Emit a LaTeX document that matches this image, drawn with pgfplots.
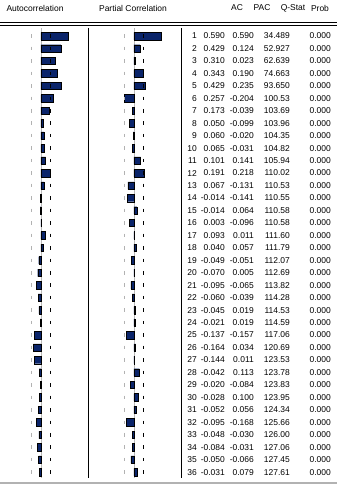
\documentclass[border=0pt]{standalone}
\usepackage{pgfplots}
\pgfplotsset{compat=1.18}
\usepackage{pgfplotstable}
\usepackage{fontspec}
\setmainfont{Liberation Sans}
\definecolor{evbar}{HTML}{0A246A}
\pgfplotstableread{
lag ac pac q prob
1 0.590 0.590 34.489 0.000
2 0.429 0.124 52.927 0.000
3 0.310 0.023 62.639 0.000
4 0.343 0.190 74.663 0.000
5 0.429 0.235 93.650 0.000
6 0.257 -0.204 100.53 0.000
7 0.173 -0.039 103.69 0.000
8 0.050 -0.099 103.96 0.000
9 0.060 -0.020 104.35 0.000
10 0.065 -0.031 104.82 0.000
11 0.101 0.141 105.94 0.000
12 0.191 0.218 110.02 0.000
13 0.067 -0.131 110.53 0.000
14 -0.014 -0.141 110.55 0.000
15 -0.014 0.064 110.58 0.000
16 0.003 -0.096 110.58 0.000
17 0.093 0.011 111.60 0.000
18 0.040 0.057 111.79 0.000
19 -0.049 -0.051 112.07 0.000
20 -0.070 0.005 112.69 0.000
21 -0.095 -0.065 113.82 0.000
22 -0.060 -0.039 114.28 0.000
23 -0.045 0.019 114.53 0.000
24 -0.021 0.019 114.59 0.000
25 -0.137 -0.157 117.06 0.000
26 -0.164 0.034 120.69 0.000
27 -0.144 0.011 123.53 0.000
28 -0.042 0.113 123.78 0.000
29 -0.020 -0.084 123.83 0.000
30 -0.028 0.100 123.95 0.000
31 -0.052 0.056 124.34 0.000
32 -0.095 -0.168 125.66 0.000
33 -0.048 -0.030 126.00 0.000
34 -0.084 -0.031 127.06 0.000
35 -0.050 -0.066 127.45 0.000
36 -0.031 0.079 127.61 0.000
}\data
\begin{document}
\begin{tikzpicture}[font=\fontsize{8.5}{10}\selectfont]
\useasboundingbox (0,0) rectangle (343bp,485bp);
\fill[white] (0,0) rectangle (343bp,485bp);
\pgfplotsset{evpanel/.style={scale only axis, height=450bp, y dir=reverse,
  ymin=0.358, ymax=36.47, axis lines=none, ticks=none, clip=false, anchor=north west},
  evbnd/.style={only marks, mark=|, mark size=1.8bp, line width=0.8bp},
  evtxt/.style={draw=none, mark=none, point meta=explicit symbolic,
   nodes near coords={\pgfplotspointmeta},
   nodes near coords style={anchor=east, inner sep=0pt, font=\fontsize{8.5}{10}\selectfont}}}
% AC panel
\begin{axis}[evpanel, at={(0bp,457bp)}, width=88bp, xmin=-0.8817, xmax=1.0108]
\addplot[gray!55, line width=0.8bp] coordinates {(0,0.358) (0,36.47)};
\addplot[evbnd, gray!60] table[x expr=-0.204, y=lag]{\data};
\addplot[evbnd, black] table[x expr=0.204, y=lag]{\data};
\addplot[xbar, bar width=7.5bp, bar shift=0pt, fill=evbar, draw=black, line width=0.4bp] table[x=ac, y=lag]{\data};
\end{axis}
% PAC panel
\begin{axis}[evpanel, at={(88bp,457bp)}, width=93bp, xmin=-0.989, xmax=1.0108]
\addplot[gray!55, line width=0.8bp] coordinates {(0,0.358) (0,36.47)};
\addplot[evbnd, gray!60] table[x expr=-0.204, y=lag]{\data};
\addplot[evbnd, black] table[x expr=0.204, y=lag]{\data};
\addplot[xbar, bar width=7.5bp, bar shift=0pt, fill=evbar, draw=black, line width=0.4bp] table[x=pac, y=lag]{\data};
\end{axis}
% table
\begin{axis}[evpanel, at={(181bp,457bp)}, width=162bp, xmin=181, xmax=343]
\addplot[evtxt] table[x expr=197, y=lag, meta=lag]{\data};
\addplot[evtxt] table[x expr=225, y=lag, meta=ac]{\data};
\addplot[evtxt] table[x expr=254, y=lag, meta=pac]{\data};
\addplot[evtxt] table[x expr=290, y=lag, meta=q]{\data};
\addplot[evtxt] table[x expr=331, y=lag, meta=prob]{\data};
\end{axis}
% headers and rules
\node at (35bp,477bp) {Autocorrelation};
\node at (133bp,477bp) {Partial Correlation};
\node at (237bp,477bp) {AC};
\node at (262bp,477bp) {PAC};
\node at (293bp,477bp) {Q-Stat};
\node at (320bp,477bp) {Prob};
\draw[line width=0.7bp] (0,463bp) -- (337bp,463bp);
\draw[line width=0.7bp] (0,460bp) -- (337bp,460bp);
\draw[line width=0.8bp] (88bp,457bp) -- (88bp,7bp);
\draw[line width=1bp] (181bp,457bp) -- (181bp,7bp);
\draw[gray!60, line width=2bp] (0,2bp) -- (337bp,2bp);
\end{tikzpicture}
\end{document}
